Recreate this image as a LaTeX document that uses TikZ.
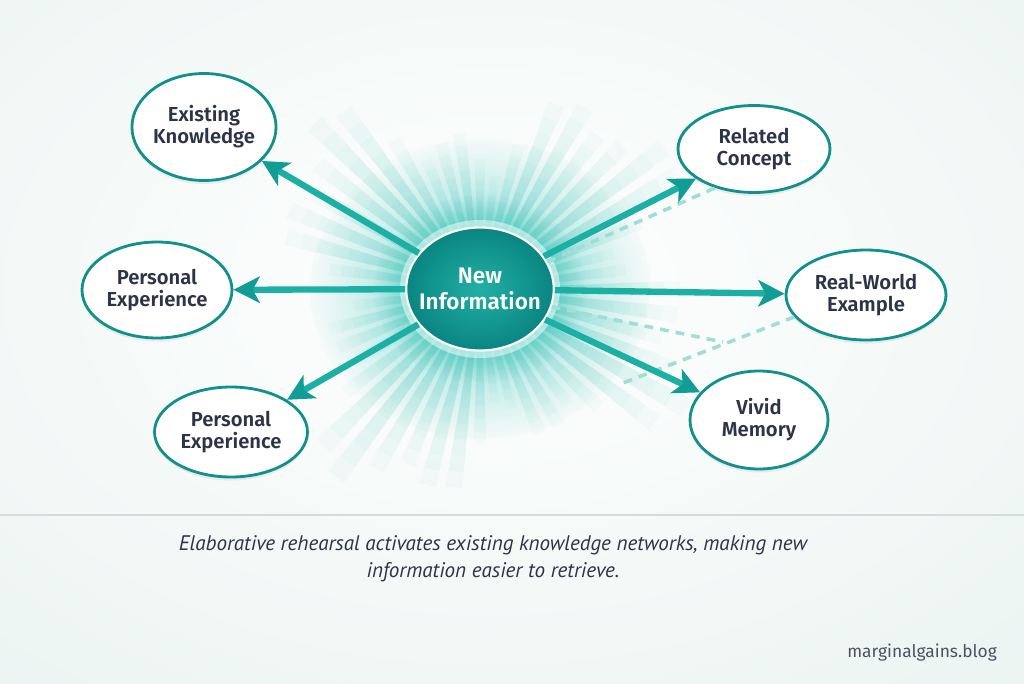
\documentclass[tikz,border=0pt]{standalone}
\usepackage{fontspec}
\setmainfont{Fira Sans}[BoldFont={Fira Sans SemiBold}]
\newfontfamily\capfont{PT Sans}
\usetikzlibrary{shapes.geometric,arrows.meta,shadows}

\definecolor{bgc}{HTML}{E8F3F0}
\definecolor{ringc}{HTML}{12908B}
\definecolor{arrowc}{HTML}{1CB0A5}
\definecolor{headc}{HTML}{119D96}
\definecolor{inkc}{HTML}{2E3447}
\definecolor{ballin}{HTML}{20B0A6}
\definecolor{ballout}{HTML}{0A8581}
\definecolor{rayc}{HTML}{1DBBAE}
\definecolor{dashc}{HTML}{9FDDD5}
\definecolor{sepc}{HTML}{D3DCDB}

\pgfdeclareradialshading{glowshade}{\pgfpoint{0bp}{0bp}}{%
	color(0bp)=(rayc!75);color(11bp)=(rayc!60);color(16bp)=(rayc!25!white);
	color(25bp)=(bgc!42!white);color(50bp)=(bgc!42!white)}

\begin{document}
\begin{tikzpicture}
[
	x=0.02cm,y=-0.02cm,
	bubble/.style 2 args={ellipse,draw=ringc,line width=1.6pt,fill=white,
		minimum width=#1,minimum height=#2,inner sep=0pt,align=center,
		font=\bfseries\fontsize{11.5}{12.5}\selectfont,text=inkc,
		drop shadow={opacity=0.12,shadow xshift=0pt,shadow yshift=-2pt}},
	core/.style={ellipse,minimum width=2.95cm,minimum height=2.46cm,inner sep=0pt,
		inner color=ballin,outer color=ballout,draw=white,line width=1.2pt,
		text=white,align=center,font=\bfseries\fontsize{12.8}{15}\selectfont},
	link/.style={-{Stealth[length=15pt,width=15pt,inset=4pt,color=headc]},
		line width=3.6pt,draw=arrowc},
	hint/.style={draw=dashc,line width=2pt,dash pattern=on 5pt off 4pt},
	ray/.style={fill=rayc,opacity=0.032}
]

	% background
	\useasboundingbox (0,0) rectangle (1024,683);
	\fill[bgc] (0,0) rectangle (1024,683);
	\shade[inner color=white,outer color=bgc] (490,290) ellipse (900 and 600);

	% glow and rays
	\shade[shading=glowshade] (480,289) ellipse (170 and 150);
	\begin{scope}[shift={(480,289)}]
		\foreach \a in {0,7.5,...,352.5} {
			\pgfmathsetmacro\len{175+45*sin(3.7*\a)+25*cos(11*\a)}
			\foreach \f in {1,0.92,...,0.3} {
				\fill[ray] (0,0) -- (\a-2.4:\len*\f) -- (\a+2.4:\len*\f) -- cycle;
			}
		}
	\end{scope}
	\fill[white,opacity=0.5] (480,289) ellipse (80 and 69);

	% nodes
	\node[core] (new) at (480,289) {\makebox[0pt]{New}\\\makebox[0pt]{Information}};
	\node[bubble={2.76cm}{2.14cm}] (ek) at (204,127) {Existing\\Knowledge};
	\node[bubble={3.0cm}{1.92cm}] (pe) at (157,290) {Personal\\Experience};
	\node[bubble={3.06cm}{1.8cm}] (pe2) at (231,432) {Personal\\Experience};
	\node[bubble={3.04cm}{1.74cm}] (rc) at (754,149) {Related\\Concept};
	\node[bubble={3.2cm}{1.8cm}] (rw) at (866,295) {Real-World\\Example};
	\node[bubble={2.76cm}{1.96cm}] (vm) at (759,420) {Vivid\\Memory};

	% faint links
	\coordinate (d1) at (723,342);
	\coordinate (d2) at (623,383);
	\draw[hint] (new.22) -- (rc.225);
	\draw[hint] (new.346) -- (d1);
	\draw[hint] (rw.197) -- (d2);

	% arrows
	\draw[link] (new) -- (ek);
	\draw[link] (new) -- (pe);
	\draw[link] (new) -- (pe2);
	\draw[link] (new) -- (rc);
	\draw[link] (new) -- (rw);
	\draw[link] (new) -- (vm);

	% caption
	\draw[sepc,line width=1pt] (0,515) -- (1024,515);
	\node[font=\capfont\itshape\fontsize{12}{15.4}\selectfont,text=inkc,align=center] (cap) at (493,559)
		{Elaborative rehearsal activates existing knowledge networks, making new\\information easier to retrieve.};
	\node[anchor=east,font=\fontsize{9.9}{11}\selectfont,text=inkc!85] (site) at (1003,653) {marginalgains.blog};

\end{tikzpicture}
\end{document}
